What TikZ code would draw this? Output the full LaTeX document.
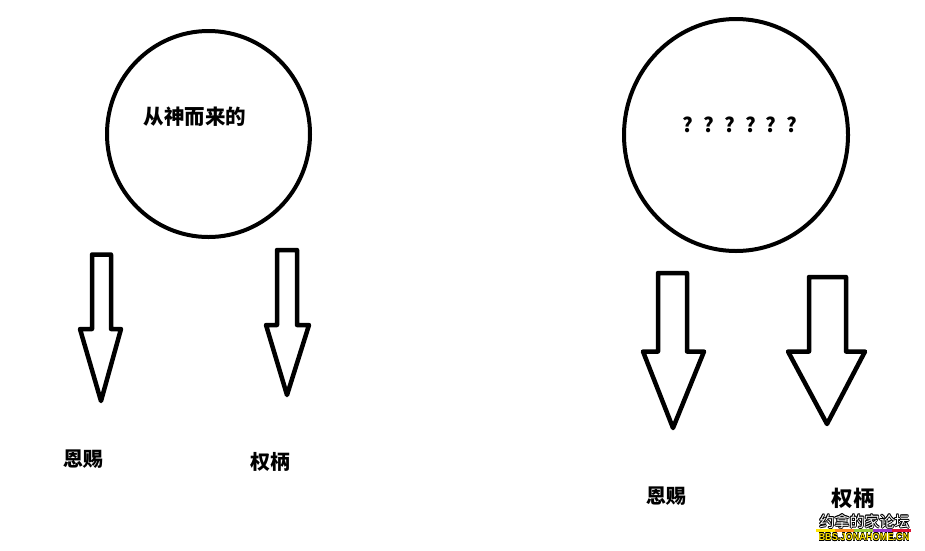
\documentclass[tikz,border=0pt]{standalone}
\usepackage{fontspec}
\usepackage{graphicx}
\setmainfont{Liberation Sans}
\newfontfamily\cjk{Noto Sans CJK SC}
\usetikzlibrary{shapes.geometric}
\definecolor{wmyellow}{HTML}{FFE600}
\definecolor{wmorange}{HTML}{FF8C1A}
\definecolor{wmgreen}{HTML}{99CC33}
\definecolor{wmpurple}{HTML}{9933CC}
\definecolor{wmred}{HTML}{DD1133}
\tikzset{
  ring/.style={draw=black, line width=4pt, ellipse, inner sep=0pt},
  blockarrow/.style={draw=black, line width=4.5pt, line join=round, fill=white},
  label/.style={font=\cjk\bfseries\fontsize{20}{22}\selectfont, inner sep=0pt},
  wm/.style={inner sep=0pt}
}
\begin{document}
\begin{tikzpicture}[x=1pt,y=-1pt]
\useasboundingbox[fill=white] (0,0) rectangle (925,550);
% circles
\node[ring, minimum width=203pt, minimum height=206pt] (c1) at (208.5,134) {};
\node[ring, minimum width=224pt, minimum height=232pt] (c2) at (736,135) {};
\node[label, font=\cjk\bfseries\fontsize{20.5}{22}\selectfont] (t1) at (195,117) {从神而来的};
\node[label, font=\cjk\bfseries\fontsize{20}{22}\selectfont] (t2) at (740,125) {?\hspace{0.5em}?\hspace{0.5em}?\hspace{0.5em}?\hspace{0.5em}?\hspace{0.5em}?};
% block arrows
\draw[blockarrow] (92,254.5) -- (111,254.5) -- (111,329) -- (121,329) -- (101,401) -- (80,329) -- (92,329) -- cycle;
\draw[blockarrow] (277,250) -- (297,250) -- (297,325) -- (309,325) -- (287,395) -- (266,325) -- (277,325) -- cycle;
\draw[blockarrow] (658,273) -- (687,273) -- (687,351.5) -- (704,351.5) -- (673,428) -- (643,351.5) -- (658,351.5) -- cycle;
\draw[blockarrow] (809,277) -- (846,277) -- (846,351.5) -- (865,351.5) -- (827,424) -- (788,351.5) -- (809,351.5) -- cycle;
% labels
\node[label] (l1) at (83,459) {恩赐};
\node[label] (l2) at (270,462) {权柄};
\node[label] (l3) at (666,496) {恩赐};
\node[label, font=\cjk\bfseries\fontsize{21.5}{23}\selectfont] (l4) at (853,498) {权柄};
% watermark
\foreach \dx/\dy in {-0.8/0,0.8/0,0/-0.8,0/0.8,-0.6/-0.6,0.6/0.6,-0.6/0.6,0.6/-0.6}{
  \node[wm, text=black, font=\cjk\fontsize{15}{16}\selectfont] at (864.5+\dx,521.5+\dy) {约拿的家论坛};
  \node[wm, text=black, font=\bfseries\fontsize{10}{11}\selectfont] at (864,537+\dy) {\scalebox{0.92}[1]{BBS.JONAHOME.CN}};
}
\node[wm, text=white, font=\cjk\fontsize{15}{16}\selectfont] (w1) at (864.5,521.5) {约拿的家论坛};
\node[wm, text=wmyellow, font=\bfseries\fontsize{10}{11}\selectfont] (w2) at (864,537) {\scalebox{0.92}[1]{BBS.JONAHOME.CN}};
\fill[wmyellow] (816,529) rectangle (835,532);
\fill[wmorange] (835,529) rectangle (854,532);
\fill[wmgreen] (854,529) rectangle (873,532);
\fill[wmpurple] (873,529) rectangle (892,532);
\fill[wmred] (892,529) rectangle (911,532);
\end{tikzpicture}
\end{document}
